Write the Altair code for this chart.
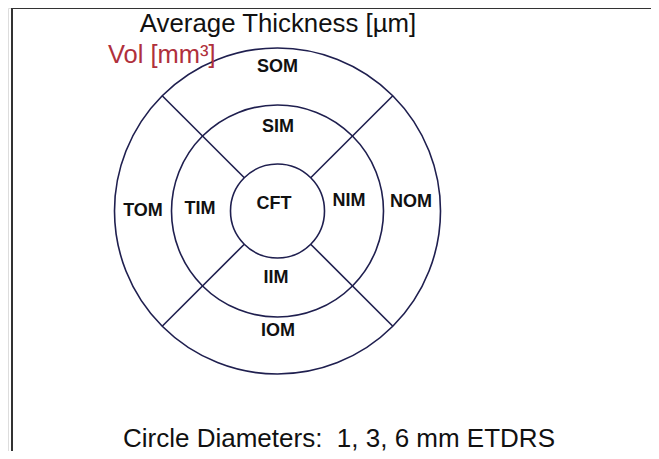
import altair as alt
import pandas as pd

# ETDRS grid geometry (picture pixels)
center_x = [277.5]
center_y = [211]
circle_radius = [47, 106, 163]           # inner, middle, outer rings

# Diagonal spokes (from inner ring to outer ring)
spoke_x1 = [244.3, 310.7, 244.3, 310.7]
spoke_y1 = [177.8, 177.8, 244.2, 244.2]
spoke_x2 = [162.2, 392.8, 162.2, 392.8]
spoke_y2 = [95.7, 95.7, 326.3, 326.3]

# Sector labels
labels = ["SOM", "SIM", "CFT", "TIM", "TOM", "NIM", "NOM", "IIM", "IOM"]
label_x = [277.5, 278, 274, 200, 143, 349, 411, 276, 278]
label_y = [67, 127, 204, 209, 211, 201, 202, 278, 331]

# Header / footer texts
titles = ["Average Thickness [µm]", "Circle Diameters:\u00a0 1, 3, 6 mm ETDRS"]
title_x = [278, 123]
title_y = [31.5, 446.5]
vol_text = ["Vol [mm³]"]
vol_x = [108]
vol_y = [63]

# Frame lines (top and left)
frame_x1 = [12, 12]
frame_y1 = [8, 8]
frame_x2 = [651, 12]
frame_y2 = [8, 451]

W, H = 643, 443
xs = alt.Scale(domain=[8, 8 + W], nice=False, zero=False)
ys = alt.Scale(domain=[8, 8 + H], nice=False, zero=False, reverse=True)
X = lambda f: alt.X(f, type="quantitative", scale=xs, axis=None)
Y = lambda f: alt.Y(f, type="quantitative", scale=ys, axis=None)

circ = pd.DataFrame({
    "x": center_x * 3, "y": center_y * 3, "r": circle_radius,
})
circ["size"] = (2 * circ["r"]) ** 2
rings = alt.Chart(circ).mark_point(
    shape="circle", filled=False, stroke="#1f1f4f", strokeWidth=1.6, opacity=1
).encode(x=X("x"), y=Y("y"), size=alt.Size("size:Q", scale=None, legend=None))

spk = pd.DataFrame({"x": spoke_x1, "y": spoke_y1, "x2": spoke_x2, "y2": spoke_y2})
spokes = alt.Chart(spk).mark_rule(color="#1f1f4f", strokeWidth=1.6).encode(
    x=X("x"), y=Y("y"), x2="x2", y2="y2")

frm = pd.DataFrame({"x": frame_x1, "y": frame_y1, "x2": frame_x2, "y2": frame_y2})
frame = alt.Chart(frm).mark_rule(color="#333333", strokeWidth=2).encode(
    x=X("x"), y=Y("y"), x2="x2", y2="y2")

lab = pd.DataFrame({"t": labels, "x": label_x, "y": label_y})
sector_text = alt.Chart(lab).mark_text(
    font="Liberation Sans", fontSize=18, fontWeight="bold", color="#111111",
    align="center", baseline="middle"
).encode(x=X("x"), y=Y("y"), text="t:N")

ttl = pd.DataFrame({"t": titles[:1], "x": title_x[:1], "y": title_y[:1]})
title_text = alt.Chart(ttl).mark_text(
    font="Liberation Sans", fontSize=25.8, color="#111111",
    align="center", baseline="alphabetic"
).encode(x=X("x"), y=Y("y"), text="t:N")

ftr = pd.DataFrame({"t": titles[1:], "x": title_x[1:], "y": title_y[1:]})
footer_text = alt.Chart(ftr).mark_text(
    font="Liberation Sans", fontSize=26, color="#111111",
    align="left", baseline="alphabetic"
).encode(x=X("x"), y=Y("y"), text="t:N")

vol = pd.DataFrame({"t": vol_text, "x": vol_x, "y": vol_y})
vol_label = alt.Chart(vol).mark_text(
    font="Liberation Sans", fontSize=25.5, color="#b0303c",
    align="left", baseline="alphabetic"
).encode(x=X("x"), y=Y("y"), text="t:N")

chart = alt.layer(
    frame, rings, spokes, sector_text, title_text, footer_text, vol_label
).properties(
    width=W, height=H,
    autosize=alt.AutoSizeParams(type="none"),
    padding=0,
).configure_view(stroke=None).configure(background="white")

chart.save("out.html", embed_options={"renderer": "svg", "actions": False})
